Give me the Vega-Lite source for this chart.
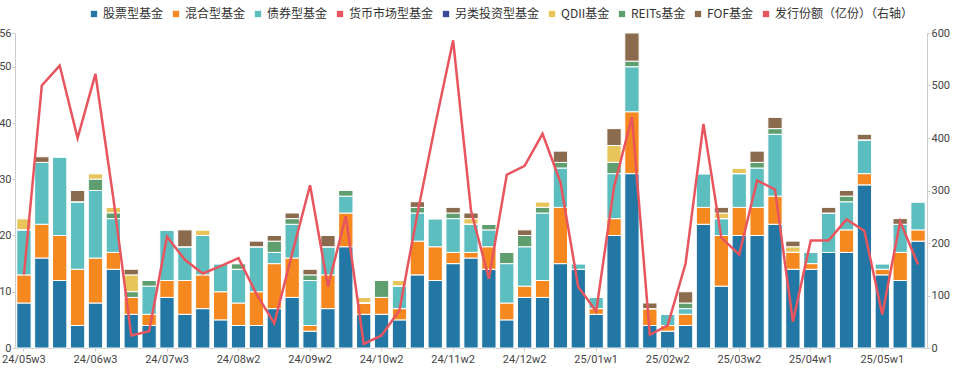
{
  "$schema": "https://vega.github.io/schema/vega-lite/v6.json",
  "width": 912,
  "height": 315,
  "autosize": "none",
  "padding": {"left": 15, "top": 33, "right": 33, "bottom": 31},
  "background": "white",
  "config": {
    "view": {"stroke": null},
    "font": "Roboto",
    "axis": {
      "labelFont": "Roboto",
      "labelFontSize": 11,
      "labelColor": "#444",
      "domainColor": "#cccccc",
      "tickColor": "#cccccc",
      "tickSize": 3,
      "grid": false,
      "title": null
    }
  },
  "data": {
    "values": [
      {"w": "24/05w3", "股票型基金": 8, "混合型基金": 5, "债券型基金": 8, "QDII基金": 2, "REITs基金": 0, "FOF基金": 0, "issue": 140},
      {"w": "24/05w4", "股票型基金": 16, "混合型基金": 6, "债券型基金": 11, "QDII基金": 0, "REITs基金": 0, "FOF基金": 1, "issue": 500},
      {"w": "24/06w1", "股票型基金": 12, "混合型基金": 8, "债券型基金": 14, "QDII基金": 0, "REITs基金": 0, "FOF基金": 0, "issue": 538},
      {"w": "24/06w2", "股票型基金": 4, "混合型基金": 10, "债券型基金": 12, "QDII基金": 0, "REITs基金": 0, "FOF基金": 2, "issue": 400},
      {"w": "24/06w3", "股票型基金": 8, "混合型基金": 8, "债券型基金": 12, "QDII基金": 1, "REITs基金": 2, "FOF基金": 0, "issue": 522},
      {"w": "24/06w4", "股票型基金": 14, "混合型基金": 3, "债券型基金": 6, "QDII基金": 1, "REITs基金": 1, "FOF基金": 0, "issue": 285},
      {"w": "24/07w1", "股票型基金": 6, "混合型基金": 3, "债券型基金": 0, "QDII基金": 3, "REITs基金": 1, "FOF基金": 1, "issue": 24},
      {"w": "24/07w2", "股票型基金": 4, "混合型基金": 2, "债券型基金": 5, "QDII基金": 0, "REITs基金": 1, "FOF基金": 0, "issue": 32},
      {"w": "24/07w3", "股票型基金": 9, "混合型基金": 3, "债券型基金": 9, "QDII基金": 0, "REITs基金": 0, "FOF基金": 0, "issue": 212},
      {"w": "24/07w4", "股票型基金": 6, "混合型基金": 6, "债券型基金": 6, "QDII基金": 0, "REITs基金": 0, "FOF基金": 3, "issue": 168},
      {"w": "24/07w5", "股票型基金": 7, "混合型基金": 6, "债券型基金": 7, "QDII基金": 1, "REITs基金": 0, "FOF基金": 0, "issue": 142},
      {"w": "24/08w1", "股票型基金": 5, "混合型基金": 5, "债券型基金": 5, "QDII基金": 0, "REITs基金": 0, "FOF基金": 0, "issue": 156},
      {"w": "24/08w2", "股票型基金": 4, "混合型基金": 4, "债券型基金": 6, "QDII基金": 0, "REITs基金": 1, "FOF基金": 0, "issue": 171},
      {"w": "24/08w3", "股票型基金": 4, "混合型基金": 6, "债券型基金": 8, "QDII基金": 0, "REITs基金": 0, "FOF基金": 1, "issue": 103},
      {"w": "24/08w4", "股票型基金": 7, "混合型基金": 8, "债券型基金": 2, "QDII基金": 0, "REITs基金": 2, "FOF基金": 1, "issue": 47},
      {"w": "24/09w1", "股票型基金": 9, "混合型基金": 7, "债券型基金": 6, "QDII基金": 0, "REITs基金": 1, "FOF基金": 1, "issue": 180},
      {"w": "24/09w2", "股票型基金": 3, "混合型基金": 1, "债券型基金": 8, "QDII基金": 0, "REITs基金": 1, "FOF基金": 1, "issue": 310},
      {"w": "24/09w3", "股票型基金": 7, "混合型基金": 6, "债券型基金": 5, "QDII基金": 0, "REITs基金": 0, "FOF基金": 2, "issue": 117},
      {"w": "24/09w4", "股票型基金": 18, "混合型基金": 6, "债券型基金": 3, "QDII基金": 0, "REITs基金": 1, "FOF基金": 0, "issue": 251},
      {"w": "24/10w1", "股票型基金": 6, "混合型基金": 2, "债券型基金": 0, "QDII基金": 1, "REITs基金": 0, "FOF基金": 0, "issue": 8},
      {"w": "24/10w2", "股票型基金": 6, "混合型基金": 3, "债券型基金": 0, "QDII基金": 0, "REITs基金": 3, "FOF基金": 0, "issue": 24},
      {"w": "24/10w3", "股票型基金": 5, "混合型基金": 2, "债券型基金": 4, "QDII基金": 1, "REITs基金": 0, "FOF基金": 0, "issue": 72},
      {"w": "24/10w4", "股票型基金": 13, "混合型基金": 6, "债券型基金": 5, "QDII基金": 0, "REITs基金": 1, "FOF基金": 1, "issue": 255},
      {"w": "24/11w1", "股票型基金": 12, "混合型基金": 6, "债券型基金": 5, "QDII基金": 0, "REITs基金": 0, "FOF基金": 0, "issue": 425},
      {"w": "24/11w2", "股票型基金": 15, "混合型基金": 2, "债券型基金": 6, "QDII基金": 0, "REITs基金": 1, "FOF基金": 1, "issue": 586},
      {"w": "24/11w3", "股票型基金": 16, "混合型基金": 1, "债券型基金": 5, "QDII基金": 1, "REITs基金": 0, "FOF基金": 1, "issue": 262},
      {"w": "24/11w4", "股票型基金": 14, "混合型基金": 4, "债券型基金": 3, "QDII基金": 0, "REITs基金": 1, "FOF基金": 0, "issue": 132},
      {"w": "24/12w1", "股票型基金": 5, "混合型基金": 3, "债券型基金": 7, "QDII基金": 0, "REITs基金": 2, "FOF基金": 0, "issue": 330},
      {"w": "24/12w2", "股票型基金": 9, "混合型基金": 2, "债券型基金": 7, "QDII基金": 0, "REITs基金": 2, "FOF基金": 1, "issue": 347},
      {"w": "24/12w3", "股票型基金": 9, "混合型基金": 3, "债券型基金": 12, "QDII基金": 1, "REITs基金": 1, "FOF基金": 0, "issue": 408},
      {"w": "24/12w4", "股票型基金": 15, "混合型基金": 10, "债券型基金": 7, "QDII基金": 0, "REITs基金": 1, "FOF基金": 2, "issue": 316},
      {"w": "24/12w5", "股票型基金": 14, "混合型基金": 0, "债券型基金": 1, "QDII基金": 0, "REITs基金": 0, "FOF基金": 0, "issue": 116},
      {"w": "25/01w1", "股票型基金": 6, "混合型基金": 1, "债券型基金": 2, "QDII基金": 0, "REITs基金": 0, "FOF基金": 0, "issue": 70},
      {"w": "25/01w2", "股票型基金": 20, "混合型基金": 3, "债券型基金": 8, "QDII基金": 3, "REITs基金": 2, "FOF基金": 3, "issue": 307},
      {"w": "25/01w3", "股票型基金": 31, "混合型基金": 11, "债券型基金": 8, "QDII基金": 0, "REITs基金": 1, "FOF基金": 5, "issue": 440},
      {"w": "25/02w1", "股票型基金": 4, "混合型基金": 3, "债券型基金": 0, "QDII基金": 0, "REITs基金": 0, "FOF基金": 1, "issue": 25},
      {"w": "25/02w2", "股票型基金": 3, "混合型基金": 1, "债券型基金": 2, "QDII基金": 0, "REITs基金": 0, "FOF基金": 0, "issue": 43},
      {"w": "25/02w3", "股票型基金": 4, "混合型基金": 2, "债券型基金": 1, "QDII基金": 0, "REITs基金": 1, "FOF基金": 2, "issue": 161},
      {"w": "25/02w4", "股票型基金": 22, "混合型基金": 3, "债券型基金": 6, "QDII基金": 0, "REITs基金": 0, "FOF基金": 0, "issue": 427},
      {"w": "25/03w1", "股票型基金": 11, "混合型基金": 9, "债券型基金": 3, "QDII基金": 1, "REITs基金": 0, "FOF基金": 1, "issue": 210},
      {"w": "25/03w2", "股票型基金": 20, "混合型基金": 5, "债券型基金": 6, "QDII基金": 1, "REITs基金": 0, "FOF基金": 0, "issue": 178},
      {"w": "25/03w3", "股票型基金": 20, "混合型基金": 5, "债券型基金": 7, "QDII基金": 0, "REITs基金": 1, "FOF基金": 2, "issue": 319},
      {"w": "25/03w4", "股票型基金": 22, "混合型基金": 5, "债券型基金": 11, "QDII基金": 0, "REITs基金": 1, "FOF基金": 2, "issue": 302},
      {"w": "25/03w5", "股票型基金": 14, "混合型基金": 3, "债券型基金": 0, "QDII基金": 1, "REITs基金": 0, "FOF基金": 1, "issue": 50},
      {"w": "25/04w1", "股票型基金": 14, "混合型基金": 1, "债券型基金": 2, "QDII基金": 0, "REITs基金": 0, "FOF基金": 0, "issue": 205},
      {"w": "25/04w2", "股票型基金": 17, "混合型基金": 0, "债券型基金": 7, "QDII基金": 0, "REITs基金": 0, "FOF基金": 1, "issue": 205},
      {"w": "25/04w3", "股票型基金": 17, "混合型基金": 4, "债券型基金": 5, "QDII基金": 0, "REITs基金": 1, "FOF基金": 1, "issue": 245},
      {"w": "25/04w4", "股票型基金": 29, "混合型基金": 2, "债券型基金": 6, "QDII基金": 0, "REITs基金": 0, "FOF基金": 1, "issue": 223},
      {"w": "25/05w1", "股票型基金": 13, "混合型基金": 1, "债券型基金": 1, "QDII基金": 0, "REITs基金": 0, "FOF基金": 0, "issue": 64},
      {"w": "25/05w2", "股票型基金": 12, "混合型基金": 5, "债券型基金": 5, "QDII基金": 0, "REITs基金": 0, "FOF基金": 1, "issue": 241},
      {"w": "25/05w3", "股票型基金": 19, "混合型基金": 2, "债券型基金": 5, "QDII基金": 0, "REITs基金": 0, "FOF基金": 0, "issue": 159}
    ]
  },
  "layer": [
    {
      "transform": [
        {"fold": ["股票型基金", "混合型基金", "债券型基金", "QDII基金", "REITs基金", "FOF基金"], "as": ["type", "v"]}
      ],
      "mark": {"type": "bar", "stroke": "white", "strokeWidth": 1},
      "encoding": {
        "x": {
          "field": "w", "type": "nominal", "sort": null,
          "scale": {"paddingInner": 0.2, "paddingOuter": 0.1},
          "axis": {
            "values": ["24/05w3", "24/06w3", "24/07w3", "24/08w2", "24/09w2", "24/10w2", "24/11w2", "24/12w2", "25/01w1", "25/02w2", "25/03w2", "25/04w1", "25/05w1"],
            "labelAngle": 0, "labelPadding": 2, "tickSize": 3
          }
        },
        "y": {
          "field": "v", "type": "quantitative", "stack": "zero",
          "scale": {"domain": [0, 56], "nice": false},
          "axis": {"values": [0, 10, 20, 30, 40, 50, 56], "labelPadding": 1}
        },
        "color": {
          "field": "type", "type": "nominal",
          "sort": ["股票型基金", "混合型基金", "债券型基金", "货币市场型基金", "另类投资型基金", "QDII基金", "REITs基金", "FOF基金", "发行份额（亿份）（右轴）"],
          "scale": {
            "domain": ["股票型基金", "混合型基金", "债券型基金", "货币市场型基金", "另类投资型基金", "QDII基金", "REITs基金", "FOF基金", "发行份额（亿份）（右轴）"],
            "range": ["#2277a4", "#f5881f", "#5dbec0", "#e8555e", "#3b4b9a", "#e8c55a", "#5e9e6f", "#8b6b4e", "#e8555e"]
          },
          "legend": {
            "orient": "none", "legendX": 73, "legendY": -25,
            "direction": "horizontal", "title": null,
            "symbolType": "square", "symbolSize": 40, "symbolStrokeWidth": 0,
            "labelFont": "Noto Sans CJK SC", "labelFontSize": 12, "labelColor": "#333",
            "labelOffset": 3, "columnPadding": 6
          }
        }
      }
    },
    {
      "mark": {"type": "line", "strokeWidth": 2.5},
      "encoding": {
        "x": {"field": "w", "type": "nominal", "sort": null},
        "y": {
          "field": "issue", "type": "quantitative",
          "scale": {"domain": [0, 600], "nice": false},
          "axis": {"orient": "right", "values": [0, 100, 200, 300, 400, 500, 600], "labelPadding": 1}
        },
        "color": {"datum": "发行份额（亿份）（右轴）"}
      }
    }
  ],
  "resolve": {"scale": {"y": "independent"}}
}
